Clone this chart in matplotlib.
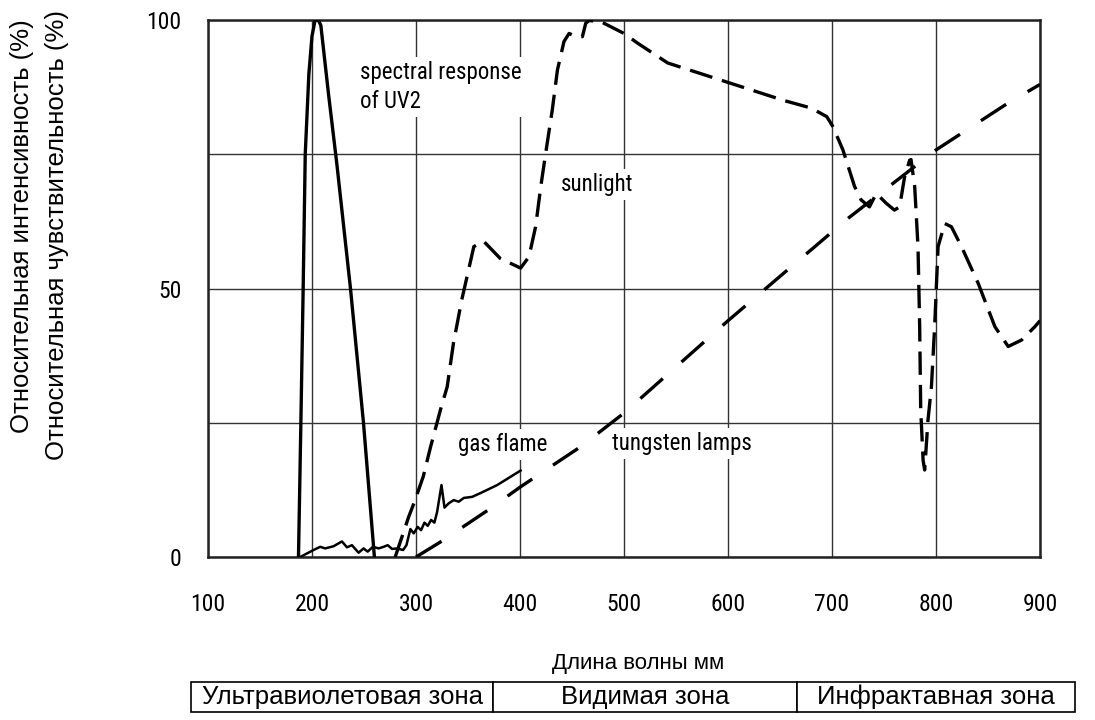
import numpy as np
import matplotlib.pyplot as plt
from matplotlib import font_manager

# шрифты: узкий для подписей на графике, обычный для русских подписей
have = {f.name for f in font_manager.fontManager.ttflist}
narrow = 'DejaVu Sans'
for name in ['Liberation Sans Narrow', 'Roboto Condensed', 'Open Sans Condensed', 'DejaVu Sans Condensed']:
    if name in have:
        narrow = name
        break
plain = 'Liberation Sans'

# спектральная чувствительность UV2
uv_x = [187, 189.3, 191.5, 193.5, 197, 200, 203, 206, 208.5, 216, 224, 237, 249.5, 260]
uv_y = [0, 25, 50, 75, 90, 97, 100, 100, 99, 86, 73, 50, 25, 0]

# газовое пламя
gas_x = [188.6, 201.5, 207.9, 212.7, 220.7, 228.8, 233.6, 238.4, 244.8, 249.6, 253.5, 258.6,
         264.1, 268.9, 272.8, 277.0, 281.8, 287.6, 290.8, 294.6, 297.8, 301.6, 304.9, 308.1,
         311.3, 314.5, 317.7, 320.3, 324.5, 327.4, 331.5, 336.3, 341.1, 346.0, 354.0, 362.0,
         378.1, 400.6]
gas_y = [0, 1.3, 1.9, 1.6, 2.0, 2.9, 1.8, 2.2, 0.8, 1.6, 1.0, 1.9,
         1.6, 1.9, 2.2, 1.5, 1.6, 1.3, 2.2, 5.2, 4.4, 5.6, 5.0, 6.4,
         5.8, 6.9, 6.4, 8.4, 13.4, 9.2, 10.0, 10.6, 10.3, 11.0, 11.2, 11.9,
         13.4, 16.1]

# солнечный свет
sun_x = [280, 293, 298, 307, 314, 323.5, 330, 336, 344, 350, 355.6, 365, 381, 400.6, 408.6,
         415, 420, 424.7, 431, 436, 442.3, 447.2, 453.6, 460, 463.2, 466.4, 477.6, 500, 513,
         542, 574, 606, 654, 680, 695, 701, 710.5, 721.7, 728, 736, 742.6, 752, 760, 765, 769.8,
         774.7, 776, 779.5, 782.7, 784.3, 785.3, 787.6, 789.1, 792.3, 795.6, 798.7, 802,
         808.4, 814.8, 824.5, 840.5, 856.6, 869.4, 882.3, 895.1, 900]
sun_y = [0, 7.5, 10, 15, 20.5, 27.4, 31.7, 39.8, 47.9, 53, 57.8, 58.8, 55.6, 53.8, 55.9,
         61.5, 69, 75.2, 83.2, 90.7, 96, 97.5, 96.9, 96.9, 99.4, 99.9, 99.7, 97.5, 95.7,
         92, 90, 88, 85, 83.6, 82, 80.1, 75.8, 69, 66.5, 65.2, 67.7, 65.9, 64.6, 65.2, 70.8,
         73.9, 74, 69, 57.8, 42.9, 27.4, 18, 16.2, 25.5, 31.7, 42.9, 57.8,
         62.1, 61.5, 57.8, 51, 42.9, 39.2, 40.4, 42.9, 44]

# вольфрамовые лампы
lamp_x = [300, 323.5, 369, 400, 458, 500, 600, 715, 800, 869, 900]
lamp_y = [0, 2.8, 8.7, 13, 20.5, 26.8, 44, 63, 75.8, 84.5, 88]

x_ticks = [100, 200, 300, 400, 500, 600, 700, 800, 900]
y_ticks = [0, 25, 50, 75, 100]
y_tick_labels = ['0', '', '50', '', '100']

zones = ['Ультравиолетовая зона', 'Видимая зона', 'Инфрактавная зона']
zone_edges = [191, 493, 797, 1075]  # границы ячеек в пикселях

fig = plt.figure(figsize=(10.95, 7.2), dpi=100)
ax = fig.add_axes([208 / 1095, 1 - 557 / 720, 832 / 1095, 537 / 720])

ax.plot(uv_x, uv_y, color='black', lw=2.4, zorder=4, solid_joinstyle='round')
ax.plot(gas_x, gas_y, color='black', lw=1.8, zorder=4)
ax.plot(sun_x, sun_y, color='black', lw=2.4, dashes=(7, 3), zorder=4)
ax.plot(lamp_x, lamp_y, color='black', lw=2.4, dashes=(9, 7.5), zorder=4)

ax.set_xlim(100, 900)
ax.set_ylim(0, 100)
ax.set_xticks(x_ticks)
ax.set_yticks(y_ticks)
ax.set_yticklabels(y_tick_labels)
ax.set_axisbelow(True)
ax.grid(True, color='#333333', lw=1.0)
for s in ax.spines.values():
    s.set_linewidth(1.8)
    s.set_color('#222222')
ax.tick_params(axis='x', length=0, pad=26, labelsize=17)
ax.tick_params(axis='y', length=0, pad=19, labelsize=17)
for lab in ax.get_xticklabels() + ax.get_yticklabels():
    lab.set_family(narrow)

box = dict(facecolor='white', edgecolor='none', pad=3)
ax.text(246, 87.5, 'spectral response\nof UV2', family=narrow, size=16.5, va='center',
        linespacing=1.3, bbox=box, zorder=3)
ax.text(439, 69.3, 'sunlight', family=narrow, size=16.5, va='center', bbox=box, zorder=3)
ax.text(340, 21, 'gas flame', family=narrow, size=16.5, va='center', bbox=box, zorder=3)
ax.text(488, 21.2, 'tungsten lamps', family=narrow, size=16.5, va='center', bbox=box, zorder=3)

fig.text(22 / 1095, 1 - 226 / 720, 'Относительная интенсивность (%)',
         rotation=90, ha='center', va='center', family=plain, size=18.5)
fig.text(57.5 / 1095, 1 - 235 / 720, 'Относительная чувствительность (%)',
         rotation=90, ha='center', va='center', family=plain, size=18.5)

fig.text(638 / 1095, 1 - 663 / 720, 'Длина волны мм', ha='center', va='center', family=plain, size=16)

# таблица зон
tab = fig.add_axes([zone_edges[0] / 1095, 1 - 712 / 720, (zone_edges[-1] - zone_edges[0]) / 1095, 30 / 720])
tab.set_xlim(zone_edges[0], zone_edges[-1])
tab.set_ylim(0, 1)
tab.axis('off')
for i, name in enumerate(zones):
    tab.add_patch(plt.Rectangle((zone_edges[i], 0), zone_edges[i + 1] - zone_edges[i], 1,
                                facecolor='white', edgecolor='black', lw=1.2, clip_on=False))
    tab.text((zone_edges[i] + zone_edges[i + 1]) / 2, 0.5, name, ha='center', va='center',
             family=plain, size=18.5)

plt.savefig('out.png', dpi=100)
